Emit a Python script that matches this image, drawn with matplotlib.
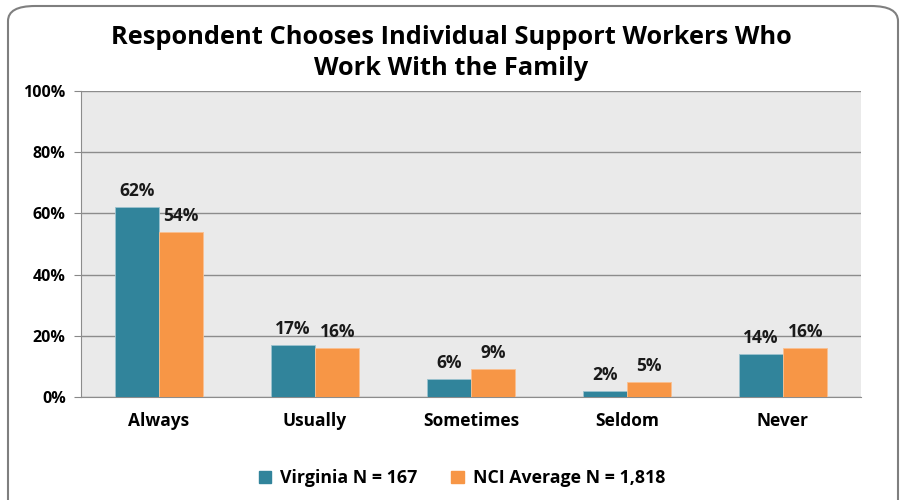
import numpy as np
import matplotlib.pyplot as plt
from matplotlib.patches import FancyBboxPatch, Patch

categories = ['Always', 'Usually', 'Sometimes', 'Seldom', 'Never']
virginia = [62, 17, 6, 2, 14]
nci = [54, 16, 9, 5, 16]
labels_v = ['62%', '17%', '6%', '2%', '14%']
labels_n = ['54%', '16%', '9%', '5%', '16%']

teal = '#31849B'
orange = '#F79646'
plt.rcParams['font.family'] = ['Open Sans', 'DejaVu Sans']

fig = plt.figure(figsize=(9.03, 5.0), dpi=100)
W, H = 903, 500
ax = fig.add_axes([81 / W, 1 - 397 / H, 780 / W, 306 / H])

# rounded frame round the chart
frame = FancyBboxPatch((8 / W, -0.05), 890 / W, 1 - 6 / H + 0.05,
                       boxstyle='round,pad=0,rounding_size=0.03',
                       transform=fig.transFigure, facecolor='white',
                       edgecolor='#7F7F7F', linewidth=1.5, zorder=-10)
fig.patches.append(frame)

x = np.arange(len(categories))
w = 0.285
ax.set_facecolor('#EAEAEA')
ax.bar(x - w / 2, virginia, w, color=teal, edgecolor='#9CC3CF', linewidth=0.6, zorder=3)
ax.bar(x + w / 2, nci, w, color=orange, edgecolor='#FAC090', linewidth=0.6, zorder=3)

for i in range(len(categories)):
    ax.text(x[i] - w / 2, virginia[i] + 2.3, labels_v[i], ha='center', va='bottom',
            fontsize=12.5, fontweight='bold', color='#1A1A1A', zorder=4)
    ax.text(x[i] + w / 2, nci[i] + 2.3, labels_n[i], ha='center', va='bottom',
            fontsize=12.5, fontweight='bold', color='#1A1A1A', zorder=4)

ax.set_xlim(-0.5, len(categories) - 0.5)
ax.set_ylim(0, 100)
ax.set_yticks(range(0, 101, 20))
ax.set_yticklabels([f'{v}%' for v in range(0, 101, 20)], fontsize=11.5, fontweight='bold')
ax.set_xticks(x)
ax.set_xticklabels(categories, fontsize=12.5, fontweight='bold')
ax.tick_params(axis='x', length=0, pad=11)
ax.tick_params(axis='y', length=5, color='#888888', pad=6)
ax.grid(axis='y', color='#8C8C8C', linewidth=1, zorder=1)
for s in ['top', 'right']:
    ax.spines[s].set_visible(False)
ax.spines['left'].set_color('#8C8C8C')
ax.spines['bottom'].set_color('#8C8C8C')

fig.text(0.5, 1 - 53 / H, 'Respondent Chooses Individual Support Workers Who\nWork With the Family',
         ha='center', va='center', fontsize=18.3, fontweight='bold', linespacing=1.3)

handles = [Patch(color=teal, label='Virginia N = 167'),
           Patch(color=orange, label='NCI Average N = 1,818')]
fig.legend(handles=handles, loc='center', bbox_to_anchor=(462 / W, 1 - 478 / H), ncol=2,
           frameon=False, prop={'size': 12.8, 'weight': 'bold'}, handlelength=0.7,
           handleheight=0.7, columnspacing=1.9, handletextpad=0.5)

fig.savefig('out.png', dpi=100)
